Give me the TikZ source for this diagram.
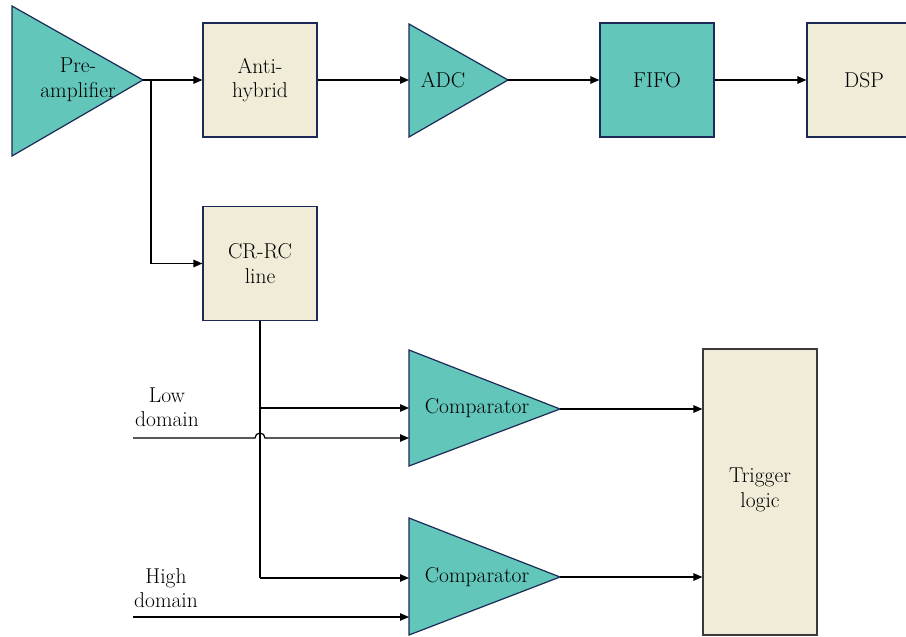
\documentclass[tikz,border=0pt]{standalone}
\usetikzlibrary{arrows.meta}
\definecolor{tealfill}{HTML}{62C6BA}
\definecolor{beigefill}{HTML}{F0ECD8}
\definecolor{navyline}{HTML}{1B2A57}
\definecolor{grayline}{HTML}{3A3A3A}
\begin{document}
\begin{tikzpicture}[x=1pt,y=-1pt,
  every node/.style={font=\rmfamily\fontsize{21.5}{24.5}\selectfont, align=center, inner sep=0pt},
  blockbox/.style={draw=navyline, line width=1.2pt, minimum width=114pt, minimum height=114pt},
  tribody/.style={draw=navyline, line width=1.2pt, fill=tealfill, line join=miter},
  arr/.style={draw=black, line width=1.2pt, -{Triangle[length=9pt,width=7.5pt]}},
  plain/.style={draw=black, line width=1.2pt}]
\useasboundingbox (0,0) rectangle (906,637);
\clip (0,0) rectangle (906,637);
% amplifier triangles
\draw[tribody] (12,6) -- (143,80) -- (12,156) -- cycle;
\node (pre) at (78,80) {Pre-\\amplifier};
\coordinate (preout) at (143,80);
\draw[tribody] (409,24) -- (508,80) -- (409,137) -- cycle;
\node (adc) at (443,80) {ADC};
\coordinate (adcin) at (409,80);
\coordinate (adcout) at (508,80);
\draw[tribody] (409,350) -- (560,409) -- (409,466) -- cycle;
\node (comp1) at (477,408) {Comparator};
\coordinate (c1out) at (560,409);
\coordinate (c1ina) at (409,408);
\coordinate (c1inb) at (409,438);
\draw[tribody] (409,518) -- (560,577) -- (409,635) -- cycle;
\node (comp2) at (477,577) {Comparator};
\coordinate (c2out) at (560,577);
\coordinate (c2ina) at (409,578);
\coordinate (c2inb) at (409,617);
% boxes
\node[blockbox, fill=beigefill] (hyb) at (260,80) {Anti-\\hybrid};
\node[blockbox, fill=tealfill] (fifo) at (657,80) {FIFO};
\node[blockbox, fill=beigefill] (dsp) at (864,80) {DSP};
\node[blockbox, fill=beigefill] (crrc) at (260,263.5) {CR-RC\\line};
\node[draw=grayline, line width=1.2pt, fill=beigefill, minimum width=114pt, minimum height=286pt] (trig) at (760,492) {};
\node (trigtxt) at (760,490) {Trigger\\logic};
% labels
\node (low) at (167,407) {Low\\domain};
\node (high) at (166,588) {High\\domain};
\coordinate (lowin) at (133,438);
\coordinate (highin) at (133,617);
\coordinate (br) at (151,80);
\coordinate (j1) at (260,408);
\coordinate (j2) at (260,578);
% connectors
\draw[arr] (preout) -- (hyb.west);
\draw[arr] (br) |- (crrc.west);
\draw[arr] (hyb.east) -- (adcin);
\draw[arr] (adcout) -- (fifo.west);
\draw[arr] (fifo.east) -- (dsp.west);
\draw[plain] (crrc.south) -- (j2);
\draw[arr] (j2) -- (c2ina);
\draw[arr] (j1) -- (c1ina);
\draw[arr] (lowin) -- (255,438) arc[start angle=180, end angle=360, radius=5] -- (c1inb);
\draw[arr] (highin) -- (c2inb);
\draw[arr] (c1out) -- (c1out -| trig.west);
\draw[arr] (c2out) -- (c2out -| trig.west);
\end{tikzpicture}
\end{document}
